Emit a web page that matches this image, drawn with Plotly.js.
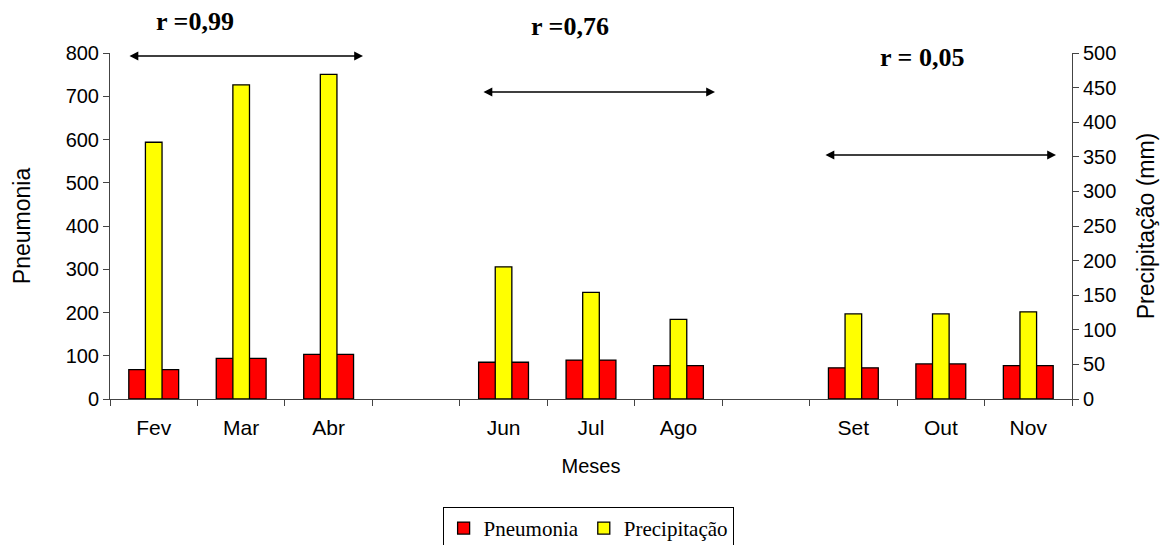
<!DOCTYPE html>
<html><head><meta charset="utf-8">
<script src="https://cdn.plot.ly/plotly-3.0.1.min.js"></script>
<style>html,body{margin:0;padding:0;background:#fff}#chart{width:1165px;height:545px}</style>
</head><body><div id="chart"></div>
<script>
const months = ["Fev","Mar","Abr"," ","Jun","Jul","Ago","  ","Set","Out","Nov"];
const pneumonia = [68, 94, 103, null, 85, 90, 77, null, 72, 81, 77];
const precipitacao = [371, 454, 469, null, 191, 154, 115, null, 123, 123, 126];
const leftTicks = [0,100,200,300,400,500,600,700,800];
const rightTicks = [0,50,100,150,200,250,300,350,400,450,500];
const corrLabels = ["r =0,99", "r =0,76", "r = 0,05"];

const sans = "Liberation Sans, Arial, sans-serif";
const serif = "Liberation Serif, Times New Roman, serif";

const traces = [
  {type:'bar', name:'Pneumonia', x:months, y:pneumonia, yaxis:'y', width:0.57,
   marker:{color:'#ff0000', line:{color:'#000', width:1.3}}},
  {type:'bar', name:'Precipitação', x:months, y:precipitacao, yaxis:'y2', width:0.19,
   marker:{color:'#ffff00', line:{color:'#000', width:1.3}}}
];

function px2x(p){return (p-110)/962;}
function py2y(p){return (399-p)/346;}

const arrows = [[128,363,56],[482,715,92],[824,1056,155]];
const labels = [[195,22],[570,27],[922,57]];
const annotations = [];
arrows.forEach(a=>{
  annotations.push({xref:'paper', yref:'paper', x:px2x(a[1]), y:py2y(a[2]), ax:-(a[1]-a[0]), ay:0,
    axref:'pixel', ayref:'pixel', text:'', showarrow:true, arrowhead:2, startarrowhead:2, arrowside:'end+start',
    arrowsize:1.1, arrowwidth:1.6, arrowcolor:'#000'});
});
labels.forEach((l,i)=>{
  annotations.push({xref:'paper', yref:'paper', x:px2x(l[0]), y:py2y(l[1]), xanchor:'center', yanchor:'middle',
    text:'<b>'+corrLabels[i]+'</b>', showarrow:false, font:{family:serif, size:26, color:'#000'}});
});

const layout = {
  width:1165, height:545,
  margin:{l:110, r:93, t:53, b:146, autoexpand:false},
  paper_bgcolor:'#fff', plot_bgcolor:'#fff',
  showlegend:true,
  barmode:'overlay',
  font:{family:sans, size:20, color:'#000'},
  xaxis:{type:'category', categoryarray:months, categoryorder:'array',
    tickson:'boundaries', ticks:'outside', ticklen:6, tickcolor:'#444',
    showline:true, linecolor:'#444', linewidth:1, showgrid:false, zeroline:false,
    tickfont:{family:sans, size:21}, range:[-0.5,10.5], ticklabelstandoff:10,
    title:{text:'Meses', font:{family:sans, size:20}, standoff:20}},
  yaxis:{range:[0,800], tickvals:leftTicks, ticks:'outside', ticklen:6, tickcolor:'#444',
    showline:true, linecolor:'#444', linewidth:1, showgrid:false, zeroline:false,
    tickfont:{family:sans, size:20},
    title:{text:'Pneumonia', font:{family:sans, size:23}, standoff:28}},
  yaxis2:{range:[0,500], tickvals:rightTicks, overlaying:'y', side:'right', anchor:'x',
    ticks:'outside', ticklen:6, tickcolor:'#444',
    showline:true, linecolor:'#444', linewidth:1, showgrid:false, zeroline:false,
    tickfont:{family:sans, size:20},
    title:{text:'Precipitação (mm)', font:{family:sans, size:23}, standoff:22}},
  yaxis3:{range:[0,500], tickvals:rightTicks, overlaying:'y', side:'right', anchor:'x',
    ticks:'inside', ticklen:6, tickcolor:'#444', showticklabels:false,
    showline:false, showgrid:false, zeroline:false},
  legend:{orientation:'h', x:0.497, xanchor:'center', y:-0.312, yanchor:'top',
    bordercolor:'#000', borderwidth:1, font:{family:serif, size:21, color:'#000'},
    itemwidth:30},
  annotations:annotations
};

Plotly.newPlot('chart', traces, layout, {displayModeBar:false, staticPlot:true});
</script></body></html>
